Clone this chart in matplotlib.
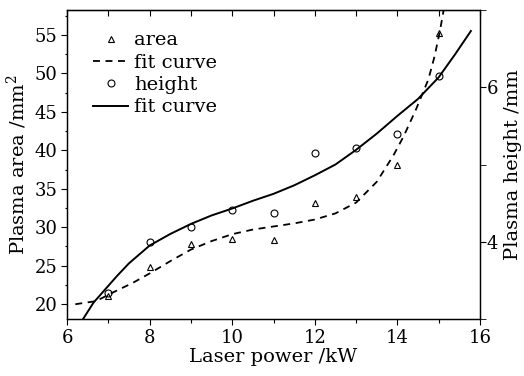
import numpy as np
import matplotlib
matplotlib.use("Agg")
import matplotlib.pyplot as plt
from matplotlib.ticker import MultipleLocator

plt.rcParams['font.family'] = ['DejaVu Serif']
plt.rcParams['mathtext.fontset'] = 'dejavuserif'
plt.rcParams['lines.scale_dashes'] = False

# measured points
power = [7, 8, 9, 10, 11, 12, 13, 14, 15]
area = [21.1, 24.8, 27.8, 28.5, 28.4, 33.1, 33.9, 38.1, 55.2]
height = [3.34, 4.0, 4.19, 4.41, 4.37, 5.15, 5.22, 5.40, 6.15]

# fit curves
area_fit_x = [6.2, 6.7, 7.1, 7.6, 8.0, 8.5, 9.0, 9.5, 10.0, 10.5, 11.0, 11.5, 12.0,
              12.5, 13.0, 13.5, 13.9, 14.15, 14.45, 14.75, 14.9, 15.03, 15.12]
area_fit_y = [20.0, 20.4, 21.5, 22.8, 24.0, 25.6, 27.1, 28.2, 29.1, 29.7, 30.1, 30.5, 31.0,
              31.8, 33.2, 35.9, 39.3, 41.8, 45.3, 49.2, 52.2, 55.5, 58.2]
height_fit_x = [6.39, 6.64, 6.92, 7.2, 7.5, 8.0, 8.5, 9.0, 9.5, 10.0, 10.5, 11.0, 11.5,
                12.0, 12.5, 13.0, 13.5, 14.0, 14.5, 15.0, 15.4, 15.78]
height_fit_y = [3.0, 3.21, 3.38, 3.55, 3.72, 3.95, 4.1, 4.23, 4.34, 4.43, 4.53, 4.62, 4.73,
                4.86, 5.0, 5.19, 5.40, 5.63, 5.85, 6.13, 6.43, 6.73]

fig = plt.figure(figsize=(5.24, 3.76), dpi=100)
ax = fig.add_axes([0.128, 0.152, 0.788, 0.821])
ax2 = ax.twinx()

h1, = ax.plot(power, area, linestyle='none', marker='^', markersize=5,
              markerfacecolor='none', markeredgecolor='black', markeredgewidth=0.8, label='area')
h2, = ax.plot(area_fit_x, area_fit_y, color='black', linewidth=1.3,
              linestyle=(0, (5, 4)), label='fit curve')
h3, = ax2.plot(power, height, linestyle='none', marker='o', markersize=5,
               markerfacecolor='none', markeredgecolor='black', markeredgewidth=0.8, label='height')
h4, = ax2.plot(height_fit_x, height_fit_y, color='black', linewidth=1.4, label='fit curve')

ax.set_xlim(6, 16)
ax.set_ylim(18.1, 58.2)
ax2.set_ylim(3.0, 7.0)

ax.xaxis.set_major_locator(MultipleLocator(2))
ax.xaxis.set_minor_locator(MultipleLocator(1))
ax.yaxis.set_major_locator(MultipleLocator(5))
ax.yaxis.set_minor_locator(MultipleLocator(2.5))
ax2.yaxis.set_major_locator(MultipleLocator(2))
ax2.yaxis.set_minor_locator(MultipleLocator(1))

ax.tick_params(axis='both', which='both', labelsize=13, width=0.8, pad=3)
ax.tick_params(axis='x', which='major', direction='out', length=4)
ax.tick_params(axis='x', which='minor', direction='out', length=3)
ax.tick_params(axis='y', which='major', direction='out', length=4)
ax.tick_params(axis='y', which='minor', direction='out', length=1.5)
ax2.tick_params(axis='y', which='major', direction='out', length=4, labelsize=13, pad=1)
ax2.tick_params(axis='y', which='minor', direction='out', length=4)

# top ticks pointing into the plot
secx = ax.secondary_xaxis('top')
secx.xaxis.set_major_locator(MultipleLocator(1))
secx.tick_params(direction='in', length=4, labeltop=False, width=0.8)

ax.set_xlabel('Laser power /kW', fontsize=14, labelpad=1)
ax.set_ylabel('Plasma area /mm$^2$', fontsize=14, labelpad=4)
ax2.set_ylabel('Plasma height /mm', fontsize=14, labelpad=4)

for a in (ax, ax2):
    for s in a.spines.values():
        s.set_linewidth(0.9)

ax2.legend(handles=[h1, h2, h3, h4], loc='upper left', frameon=False, fontsize=14,
           handlelength=1.8, handletextpad=0.3, labelspacing=0.22,
           borderaxespad=0.3, bbox_to_anchor=(0.03, 0.975))

fig.savefig('out.png', dpi=100)
